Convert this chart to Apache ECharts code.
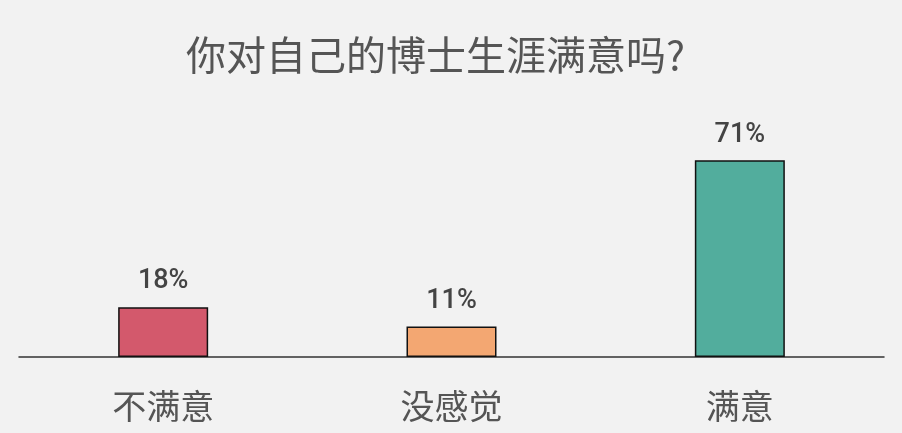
<!DOCTYPE html>
<html>
<head>
<meta charset="utf-8">
<script src="https://cdn.jsdelivr.net/npm/echarts@6/dist/echarts.min.js"></script>
<style>
html,body{margin:0;padding:0;background:#f2f2f2;}
#c{width:902px;height:433px;}
</style>
</head>
<body>
<div id="c"></div>
<script>
const titleText = '你对自己的博士生涯满意吗?';
const categories = ['不满意', '没感觉', '满意'];
const values = [18, 11, 71];
const barColors = ['#d3596c', '#f3a772', '#52ad9d'];

const chart = echarts.init(document.getElementById('c'));
chart.setOption({
  backgroundColor: '#f2f2f2',
  animation: false,
  title: {
    text: titleText,
    left: 181,
    top: 30,
    textStyle: {
      fontFamily: 'Noto Sans CJK SC',
      fontSize: 40,
      fontWeight: 'normal',
      color: '#555555'
    }
  },
  grid: { left: 19, right: 18, top: 80, bottom: 76 },
  xAxis: {
    type: 'category',
    data: categories,
    axisLine: { lineStyle: { color: '#333333', width: 1.5 } },
    axisTick: { show: false },
    axisLabel: {
      margin: 32,
      fontFamily: 'Noto Sans CJK SC',
      fontSize: 34,
      color: '#555555'
    }
  },
  yAxis: {
    type: 'value',
    min: 0,
    max: 100,
    show: false
  },
  series: [{
    type: 'bar',
    barWidth: 90,
    data: values.map((v, i) => ({
      value: v,
      itemStyle: { color: barColors[i], borderColor: '#111111', borderWidth: 1.5 }
    })),
    label: {
      show: true,
      position: 'top',
      distance: 12,
      formatter: '{c}%',
      fontFamily: 'Roboto',
      fontSize: 27,
      fontWeight: 500,
      color: '#444444'
    }
  }]
});
</script>
</body>
</html>
